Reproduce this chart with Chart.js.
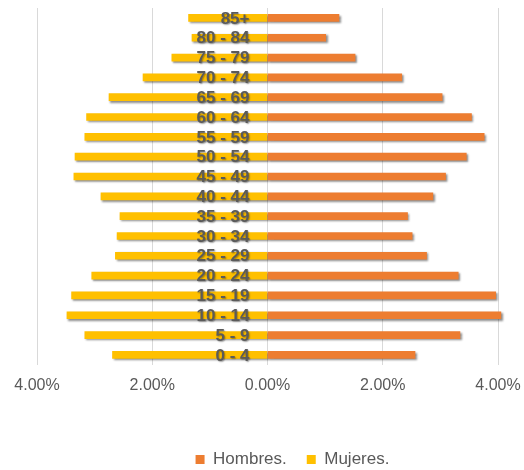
<!DOCTYPE html>
<html>
<head>
<meta charset="utf-8">
<script src="https://cdn.jsdelivr.net/npm/chart.js@4/dist/chart.umd.min.js"></script>
<style>
  body { margin: 0; background: #fff; }
  #wrap { width: 524px; height: 470px; }
</style>
</head>
<body>
<div id="wrap"><canvas id="grafico"></canvas></div>
<script>
var edades = ['0 - 4', '5 - 9', '10 - 14', '15 - 19', '20 - 24', '25 - 29', '30 - 34', '35 - 39', '40 - 44',
    '45 - 49', '50 - 54', '55 - 59', '60 - 64', '65 - 69', '70 - 74', '75 - 79', '80 - 84', '85+'];
var hombres = [2.56, 3.34, 4.05, 3.96, 3.31, 2.76, 2.51, 2.43, 2.87, 3.09, 3.45, 3.76, 3.54, 3.03, 2.33, 1.52, 1.01, 1.24];
var mujeres = [2.69, 3.17, 3.48, 3.40, 3.05, 2.64, 2.61, 2.56, 2.89, 3.36, 3.34, 3.17, 3.14, 2.75, 2.16, 1.66, 1.31, 1.37];
var ticksX = [-4, -2, 0, 2, 4];

var fuente = '"Liberation Sans", Arial, sans-serif';

// sombra debajo de las barras
var sombra = {
    id: 'sombra',
    beforeDatasetsDraw: function (chart) {
        var c = chart.ctx;
        c.save();
        c.shadowColor = 'rgba(0,0,0,0.45)';
        c.shadowBlur = 2;
        c.shadowOffsetX = 1.5;
        c.shadowOffsetY = 1.5;
    },
    afterDatasetsDraw: function (chart) {
        chart.ctx.restore();
    }
};

// etiquetas de edad en el centro
var etiquetas = {
    id: 'etiquetas',
    afterDraw: function (chart) {
        var c = chart.ctx;
        var y = chart.scales.y;
        var x0 = chart.scales.x.getPixelForValue(0);
        c.save();
        c.font = 'bold 17px ' + fuente;
        c.fillStyle = '#5a5a5a';
        c.textAlign = 'right';
        c.textBaseline = 'middle';
        c.shadowColor = 'rgba(0,0,0,0.35)';
        c.shadowBlur = 1.5;
        c.shadowOffsetX = 1;
        c.shadowOffsetY = 1;
        edades.forEach(function (e, i) {
            c.fillText(e, x0 - 18, y.getPixelForValue(i) + 1);
        });
        c.restore();
    }
};

// la leyenda va un poco a la derecha y mas abajo
var moverLeyenda = {
    id: 'moverLeyenda',
    afterLayout: function (chart) {
        chart.legend.left += 25;
        chart.legend.right += 25;
        chart.legend.top += 8;
        chart.legend.bottom += 8;
    }
};

new Chart(document.getElementById('grafico'), {
    type: 'bar',
    data: {
        labels: edades,
        datasets: [{
            label: 'Hombres.',
            data: hombres,
            backgroundColor: '#ED7D31',
            barThickness: 7,
            clip: 8
        }, {
            label: 'Mujeres.',
            data: mujeres.map(function (v) { return -v; }),
            backgroundColor: '#FFC000',
            barThickness: 7,
            clip: 8
        }]
    },
    plugins: [sombra, etiquetas, moverLeyenda],
    options: {
        indexAxis: 'y',
        responsive: true,
        maintainAspectRatio: false,
        animation: false,
        layout: { padding: { top: 8, left: 37, right: 26, bottom: 0 } },
        scales: {
            x: {
                stacked: true,
                min: -4,
                max: 4,
                afterBuildTicks: function (axis) {
                    axis.ticks = ticksX.map(function (v) { return { value: v }; });
                },
                grid: { color: '#d9d9d9', drawTicks: false },
                border: { display: false },
                ticks: {
                    padding: 11,
                    color: '#595959',
                    font: { family: fuente, size: 16 },
                    callback: function (v) { return Math.abs(v).toFixed(2) + '%'; }
                },
                afterFit: function (axis) {
                    axis.height += 17;
                    axis.paddingLeft = 0;
                    axis.paddingRight = 0;
                }
            },
            y: {
                stacked: true,
                reverse: true,
                display: false
            }
        },
        plugins: {
            legend: {
                position: 'bottom',
                labels: {
                    boxWidth: 9,
                    boxHeight: 9,
                    padding: 20,
                    color: '#595959',
                    font: { family: fuente, size: 17 }
                }
            },
            tooltip: { enabled: false }
        }
    }
});
</script>
</body>
</html>
